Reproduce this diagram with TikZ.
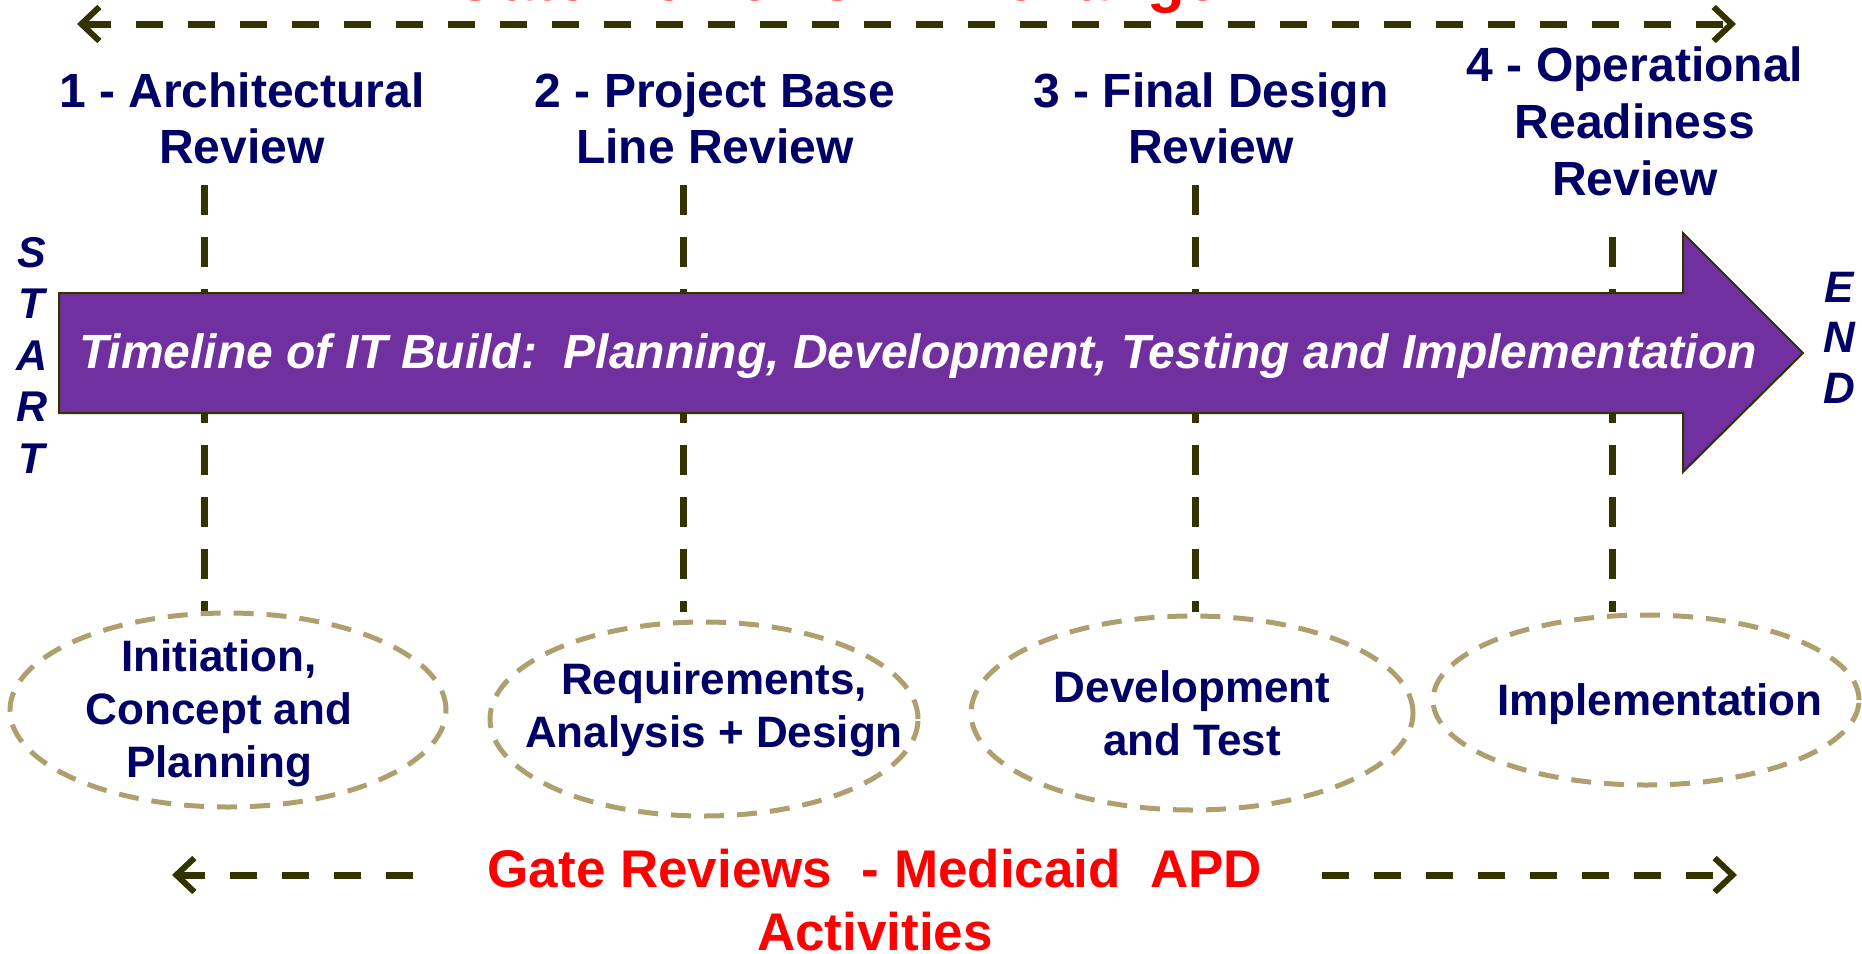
\documentclass[tikz,border=0pt]{standalone}
\usepackage{fontspec}
\setmainfont{Liberation Sans}
\usetikzlibrary{arrows.meta,shapes.geometric}
\definecolor{navy}{RGB}{0,0,102}
\definecolor{darkolive}{RGB}{51,51,0}
\definecolor{tanline}{RGB}{173,160,110}
\definecolor{purp}{RGB}{112,48,160}
\begin{document}
\begin{tikzpicture}[x=1pt,y=-1pt,
  gatelabel/.style={text=navy, font=\fontsize{48}{56}\selectfont\bfseries, align=center, anchor=base, inner sep=0pt},
  sideword/.style={text=navy, font=\fontsize{43}{51.5}\selectfont\bfseries\itshape, align=center, anchor=base, inner sep=0pt},
  gateline/.style={draw=darkolive, line width=7pt, dash pattern=on 30pt off 22pt},
  phase/.style={ellipse, draw=tanline, line width=5pt, dash pattern=on 20pt off 13pt, inner sep=0pt},
  phasetext/.style={text=navy, font=\fontsize{44}{53}\selectfont\bfseries, align=center, anchor=base, inner sep=0pt},
  redtext/.style={text=red, font=\bfseries, align=center, anchor=base, inner sep=0pt},
  spanarrow/.style={draw=darkolive, line width=7pt, dash pattern=on 27pt off 25pt},
  barb/.tip={Straight Barb[length=18pt, width=34pt, line width=6pt]}
]
\useasboundingbox (0,0) rectangle (1862,953);
\clip (0,0) rectangle (1862,953);

% top exchange arrow and text (cut at the top edge)
\node[redtext, font=\fontsize{62}{70}\selectfont\bfseries] (toptext) at (836,1) {Gate Reviews\ \ - Exchange};
\coordinate (topL) at (77,24);
\coordinate (topR) at (1736,24);
\draw[spanarrow, {barb}-{barb}] (topL) -- (topR);

% gate labels (anchor = baseline of last line)
\node[gatelabel] (g1) at (242,163) {1 - Architectural\\Review};
\node[gatelabel] (g2) at (715,163) {2 - Project Base\\Line Review};
\node[gatelabel] (g3) at (1211,163) {3 - Final Design\\Review};
\node[gatelabel, font=\fontsize{48}{57}\selectfont\bfseries] (g4) at (1635,195) {4 - Operational\\Readiness\\Review};

% gate lines
\coordinate (l1a) at (204,185); \coordinate (l1b) at (204,612);
\coordinate (l2a) at (683,185); \coordinate (l2b) at (683,612);
\coordinate (l3a) at (1195,185); \coordinate (l3b) at (1195,612);
\coordinate (l4a) at (1612,237); \coordinate (l4b) at (1612,612);
\draw[gateline] (l1a) -- (l1b);
\draw[gateline] (l2a) -- (l2b);
\draw[gateline] (l3a) -- (l3b);
\draw[gateline] (l4a) -- (l4b);

% timeline arrow
\draw[fill=purp, draw=darkolive, line width=2pt, line join=miter]
  (59,293) -- (1683,293) -- (1683,233) -- (1803,353) -- (1683,472) -- (1683,413) -- (59,413) -- cycle;
\node[text=white, font=\fontsize{48}{56}\selectfont\bfseries\itshape, anchor=base, inner sep=0pt] (tl) at (918,368)
  {Timeline of IT Build:\ \ Planning, Development, Testing and Implementation};

% start / end
\node[sideword] (start) at (32,473) {S\\T\\A\\R\\T};
\node[sideword, font=\fontsize{44}{50.5}\selectfont\bfseries\itshape] (end) at (1839,403) {E\\N\\D};

% phases
\node[phase, minimum width=436pt, minimum height=194pt] (e1) at (228,710) {};
\node[phase, minimum width=428pt, minimum height=194pt] (e2) at (704,719) {};
\node[phase, minimum width=442pt, minimum height=194pt] (e3) at (1192,713) {};
\node[phase, minimum width=426pt, minimum height=170pt] (e4) at (1646,700) {};
\node[phasetext] (t1) at (219,777) {Initiation,\\Concept and\\Planning};
\node[phasetext] (t2) at (714,747) {Requirements,\\Analysis + Design};
\node[phasetext] (t3) at (1192,755) {Development\\and Test};
\node[phasetext] (t4) at (1660,715) {Implementation};

% bottom arrows and text
\coordinate (bLin) at (413,875); \coordinate (bLout) at (172,875);
\coordinate (bRin) at (1322,875); \coordinate (bRout) at (1737,875);
\draw[spanarrow, -{barb}] (bLin) -- (bLout);
\draw[spanarrow, -{barb}] (bRin) -- (bRout);
\node[redtext, font=\fontsize{53}{63}\selectfont\bfseries] (bottomtext) at (875,950) {Gate Reviews\ \ - Medicaid\ \ APD\\Activities};
\end{tikzpicture}
\end{document}
